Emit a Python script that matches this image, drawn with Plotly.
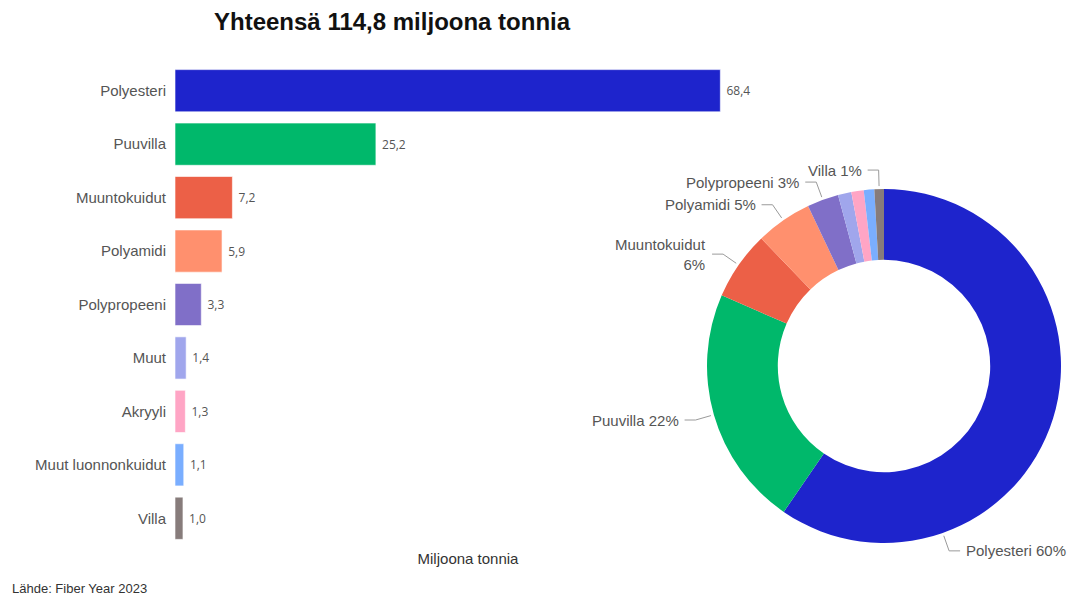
import math
import plotly.graph_objects as go

categories = ["Polyesteri", "Puuvilla", "Muuntokuidut", "Polyamidi", "Polypropeeni",
              "Muut", "Akryyli", "Muut luonnonkuidut", "Villa"]
values = [68.4, 25.2, 7.2, 5.9, 3.3, 1.4, 1.3, 1.1, 1.0]
colors = ["#1E24CC", "#00B86B", "#EC6047", "#FF906E", "#806FC8",
          "#A0A6EC", "#FFA5C5", "#7AAEFF", "#877C7B"]
title_text = "Yhteensä 114,8 miljoona tonnia"
x_title = "Miljoona tonnia"
source_text = "Lähde: Fiber Year 2023"

# pie label styling (which slices get labels, line breaks, special leader angle)
pie_label_text = {
    "Polyesteri": "Polyesteri {p}%",
    "Puuvilla": "Puuvilla {p}%",
    "Muuntokuidut": "Muuntokuidut<br>{p}%",
    "Polyamidi": "Polyamidi {p}%",
    "Polypropeeni": "Polypropeeni {p}%",
    "Villa": "Villa {p}%",
}
leader_angle_override = {"Polyesteri": 160.6}

W, H = 1067, 599
fig = go.Figure()

bar_text = [f"{v:.1f}".replace(".", ",") for v in values]
fig.add_trace(go.Bar(
    y=categories, x=values, orientation="h",
    marker=dict(color=colors, line=dict(color="rgba(255,255,255,0.6)", width=1)),
    text=[" " + t for t in bar_text], textposition="outside",
    textfont=dict(family="Open Sans", size=12, color="#555555"),
    cliponaxis=False, hoverinfo="skip", showlegend=False,
))

# Pie geometry (pixels)
pcx, pcy, pr = 884, 366, 177
fig.add_trace(go.Pie(
    labels=categories, values=values, sort=False, direction="clockwise", rotation=0,
    hole=0.6, marker=dict(colors=colors), textinfo="none", showlegend=False,
    domain=dict(x=[(pcx - pr) / W, (pcx + pr) / W], y=[1 - (pcy + pr) / H, 1 - (pcy - pr) / H]),
))

total = sum(values)
shapes = []
annotations = []
cum = 0.0
for cat, v in zip(categories, values):
    start = cum
    cum += v
    if cat not in pie_label_text:
        continue
    pct = round(v / total * 100)
    mid = (start + v / 2) / total * 360
    ang = leader_angle_override.get(cat, mid)
    rad = math.radians(ang)
    sx, sy = math.sin(rad), -math.cos(rad)
    p1 = (pcx + 180 * sx, pcy + 180 * sy)
    p2 = (pcx + 196 * sx, pcy + 196 * sy)
    side = 1 if sx > 0.01 else -1
    p3 = (p2[0] + side * 11, p2[1])
    path = "M {} {} L {} {} L {} {}".format(
        p1[0] / W, 1 - p1[1] / H, p2[0] / W, 1 - p2[1] / H, p3[0] / W, 1 - p3[1] / H)
    shapes.append(dict(type="path", xref="paper", yref="paper", path=path,
                       line=dict(color="#9a9a9a", width=1)))
    annotations.append(dict(
        x=(p3[0] + side * 4) / W, y=1 - p3[1] / H, xref="paper", yref="paper",
        text=pie_label_text[cat].format(p=pct), showarrow=False,
        xanchor="left" if side > 0 else "right", yanchor="middle",
        align="right" if side < 0 else "left",
        font=dict(family="Liberation Sans", size=15, color="#555555"),
    ))

annotations.append(dict(x=392 / W, y=1 - 22 / H, xref="paper", yref="paper",
                        text="<b>" + title_text + "</b>", showarrow=False,
                        xanchor="center", yanchor="middle",
                        font=dict(family="Liberation Sans", size=24, color="#111111")))
annotations.append(dict(x=10 / W, y=1 - 598 / H, xref="paper", yref="paper",
                        text=source_text, showarrow=False, xanchor="left", yanchor="bottom",
                        font=dict(family="Liberation Sans", size=13, color="#333333")))

fig.update_layout(
    width=W, height=H, margin=dict(l=0, r=0, t=0, b=0),
    paper_bgcolor="white", plot_bgcolor="white",
    bargap=0.21,
    xaxis=dict(domain=[175 / W, 761 / W], range=[0, 73.5], showgrid=False, zeroline=False,
               showticklabels=False, ticks="", showline=False,
               title=dict(text=x_title, standoff=8,
                          font=dict(family="Liberation Sans", size=15, color="#333333"))),
    yaxis=dict(domain=[1 - 545 / H, 1 - 64 / H], autorange="reversed", showgrid=False,
               zeroline=False, ticks="", ticklabelstandoff=8,
               tickfont=dict(family="Liberation Sans", size=15, color="#555555")),
    shapes=shapes, annotations=annotations,
)

fig.write_html("out.html")
